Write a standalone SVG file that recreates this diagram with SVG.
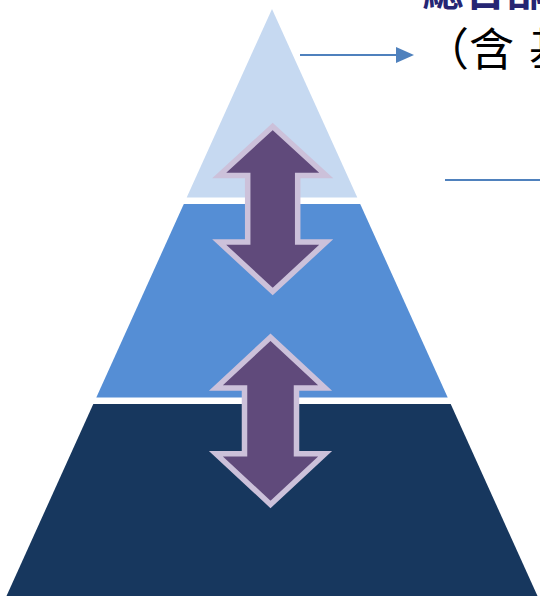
<svg xmlns="http://www.w3.org/2000/svg" width="540" height="596" viewBox="0 0 540 596">
  <style>
    .tier-top { fill: #c6d9f1; }
    .tier-mid { fill: #558ed5; }
    .tier-base { fill: #17375e; }
    .dbl-arrow { fill: #604a7b; stroke: #ccc1da; stroke-width: 5.5; stroke-linejoin: miter; stroke-miterlimit: 10; }
    .leader { stroke: #4f81bd; stroke-width: 2; fill: none; }
    .title { font-family: "Noto Sans CJK TC", "Noto Sans CJK SC", sans-serif; font-weight: 700; font-size: 42px; fill: #262673; }
    .sub { font-family: "Noto Sans CJK TC", "Noto Sans CJK SC", sans-serif; font-size: 45px; fill: #000000; }
  </style>
  <defs>
    <marker id="head" markerUnits="userSpaceOnUse" markerWidth="18" markerHeight="16" refX="0" refY="8" orient="auto">
      <path d="M0,0 L18,8 L0,16 Z" fill="#4f81bd"/>
    </marker>
  </defs>

  <rect width="540" height="596" fill="#ffffff"/>

  <!-- pyramid tiers -->
  <g id="tier-top">
    <polygon class="tier-top" points="272,9 357.3,197.5 186.7,197.5"/>
  </g>
  <g id="tier-middle">
    <polygon class="tier-mid" points="183.8,204 360.2,204 447.7,397.5 96.3,397.5"/>
  </g>
  <g id="tier-base">
    <polygon class="tier-base" points="93.3,404 450.7,404 537.5,596 6.5,596"/>
  </g>

  <!-- two-way arrows between tiers -->
  <g id="arrow-upper">
    <path class="dbl-arrow" d="M272.7,126.5 L326.2,175.5 L297.7,175.5 L297.7,242 L326.2,242 L272.7,291.5 L219.2,242 L247.7,242 L247.7,175.5 L219.2,175.5 Z"/>
  </g>
  <g id="arrow-lower">
    <path class="dbl-arrow" d="M270.5,337.2 L325.1,388 L296.5,388 L296.5,453.7 L325.1,453.7 L270.5,504.4 L215.9,453.7 L244.5,453.7 L244.5,388 L215.9,388 Z"/>
  </g>

  <!-- leader lines -->
  <g id="connectors">
    <line class="leader" x1="300" y1="55" x2="396" y2="55" marker-end="url(#head)"/>
    <line class="leader" x1="445" y1="180" x2="540" y2="180"/>
  </g>

  <!-- labels -->
  <g id="label-top">
    <text class="title" x="422" y="6">總合部</text>
    <text class="sub" x="424" y="66">（含</text>
    <text class="sub" x="529" y="66">基</text>
  </g>
</svg>
